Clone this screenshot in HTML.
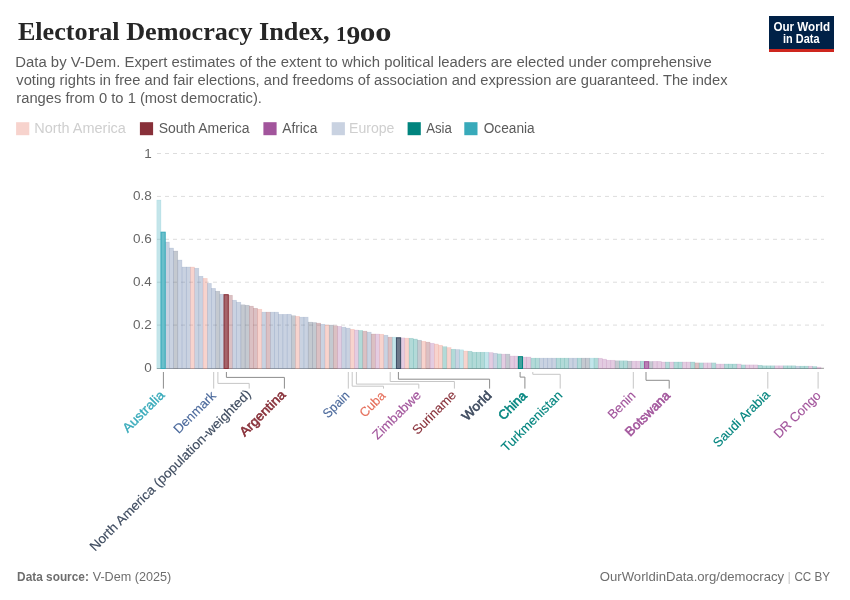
<!DOCTYPE html>
<html><head><meta charset="utf-8"><title>Electoral Democracy Index, 1900</title>
<style>
html,body{margin:0;padding:0;background:#fff;}
body{width:850px;height:600px;overflow:hidden;}
svg{display:block;will-change:transform;}
text{font-family:"Liberation Sans",sans-serif;}
.t{font-family:"Liberation Serif",serif;font-weight:700;font-size:26px;fill:#262626;}
.st{font-size:14px;fill:#5B5B5B;}
.lg{font-size:14px;}
.yl{font-size:13.5px;fill:#666666;}
.lb{}
.ft{font-size:13px;fill:#6E6E6E;}
.lo{font-size:12.5px;font-weight:700;fill:#ffffff;}
</style></head>
<body>
<svg width="850" height="600" viewBox="0 0 850 600">
<rect x="769" y="16" width="65" height="36" fill="#002147"/>
<rect x="769" y="49" width="65" height="3" fill="#CE261E"/>
<text id="title" x="17.90" y="40.10" class="t hz" textLength="311.75" lengthAdjust="spacingAndGlyphs">Electoral Democracy Index,</text>
<text id="st1" x="15.30" y="66.70" class="st hz" textLength="696.43" lengthAdjust="spacingAndGlyphs">Data by V-Dem. Expert estimates of the extent to which political leaders are elected under comprehensive</text>
<text id="st2" x="16.30" y="84.80" class="st hz" textLength="711.21" lengthAdjust="spacingAndGlyphs">voting rights in free and fair elections, and freedoms of association and expression are guaranteed. The index</text>
<text id="st3" x="16.30" y="102.90" class="st hz" textLength="245.62" lengthAdjust="spacingAndGlyphs">ranges from 0 to 1 (most democratic).</text>
<text id="lo1" x="773.40" y="30.70" class="lo hz" textLength="56.69" lengthAdjust="spacingAndGlyphs">Our World</text>
<text id="lo2" x="783.00" y="42.50" class="lo hz" textLength="36.49" lengthAdjust="spacingAndGlyphs">in Data</text>
<text id="g1" x="337.7" y="40.6" class="t gl" transform="matrix(0.8072 0 0 0.7677 63.503 9.775)">1</text>
<text id="g2" x="346.9" y="43.7" class="t gl" transform="matrix(1.0550 0 0 0.9579 -19.568 1.652)">9</text>
<text id="g3" x="361.0" y="40.6" class="t gl" transform="matrix(1.2033 0 0 1.0630 -74.619 -2.157)">o</text>
<text id="g4" x="376.5" y="40.6" class="t gl" transform="matrix(1.2475 0 0 1.0630 -94.389 -2.157)">o</text>
<rect x="16.1" y="122.2" width="13.2" height="13" fill="#E56E5A" fill-opacity="0.3"/>
<rect x="139.9" y="122.2" width="13.2" height="13" fill="#883039" fill-opacity="1"/>
<rect x="263.4" y="122.2" width="13.2" height="13" fill="#A2559C" fill-opacity="1"/>
<rect x="331.7" y="122.2" width="13.2" height="13" fill="#4C6A9C" fill-opacity="0.3"/>
<rect x="407.6" y="122.2" width="13.2" height="13" fill="#00847E" fill-opacity="1"/>
<rect x="464.3" y="122.2" width="13.2" height="13" fill="#38AABA" fill-opacity="1"/>
<text id="lg1" x="34.20" y="133.30" class="lg hz" style="fill:#CFCFCF" textLength="91.70" lengthAdjust="spacingAndGlyphs">North America</text>
<text id="lg2" x="158.70" y="133.30" class="lg hz" style="fill:#5B5B5B" textLength="90.86" lengthAdjust="spacingAndGlyphs">South America</text>
<text id="lg3" x="282.30" y="133.30" class="lg hz" style="fill:#5B5B5B" textLength="35.00" lengthAdjust="spacingAndGlyphs">Africa</text>
<text id="lg4" x="349.00" y="133.30" class="lg hz" style="fill:#CFCFCF" textLength="45.36" lengthAdjust="spacingAndGlyphs">Europe</text>
<text id="lg5" x="426.20" y="133.30" class="lg hz" style="fill:#5B5B5B" textLength="25.63" lengthAdjust="spacingAndGlyphs">Asia</text>
<text id="lg6" x="483.70" y="133.30" class="lg hz" style="fill:#5B5B5B" textLength="50.96" lengthAdjust="spacingAndGlyphs">Oceania</text>
<line x1="157" y1="153.5" x2="824" y2="153.5" stroke="#DDDDDD" stroke-width="1" stroke-dasharray="4,4"/>
<line x1="157" y1="196.4" x2="824" y2="196.4" stroke="#DDDDDD" stroke-width="1" stroke-dasharray="4,4"/>
<line x1="157" y1="239.3" x2="824" y2="239.3" stroke="#DDDDDD" stroke-width="1" stroke-dasharray="4,4"/>
<line x1="157" y1="282.2" x2="824" y2="282.2" stroke="#DDDDDD" stroke-width="1" stroke-dasharray="4,4"/>
<line x1="157" y1="325.1" x2="824" y2="325.1" stroke="#DDDDDD" stroke-width="1" stroke-dasharray="4,4"/>
<text x="151.8" y="157.5" text-anchor="end" class="yl">1</text>
<text x="151.8" y="200.4" text-anchor="end" class="yl">0.8</text>
<text x="151.8" y="243.3" text-anchor="end" class="yl">0.6</text>
<text x="151.8" y="286.2" text-anchor="end" class="yl">0.4</text>
<text x="151.8" y="329.1" text-anchor="end" class="yl">0.2</text>
<text x="151.8" y="372.0" text-anchor="end" class="yl">0</text>
<line x1="156.8" y1="368.5" x2="823.9" y2="368.5" stroke="#AAAAAA" stroke-width="1"/>
<rect x="156.80" y="200.00" width="4.20" height="168.60" fill="#38AABA" fill-opacity="0.3" stroke="#38AABA" stroke-opacity="0.2" stroke-width="0.5"/>
<rect x="165.21" y="242.00" width="4.20" height="126.60" fill="#4C6A9C" fill-opacity="0.3" stroke="#4C6A9C" stroke-opacity="0.2" stroke-width="0.5"/>
<rect x="169.41" y="248.00" width="4.20" height="120.60" fill="#4C6A9C" fill-opacity="0.3" stroke="#4C6A9C" stroke-opacity="0.2" stroke-width="0.5"/>
<rect x="173.62" y="251.00" width="4.20" height="117.60" fill="#3B4B63" fill-opacity="0.3" stroke="#3B4B63" stroke-opacity="0.2" stroke-width="0.5"/>
<rect x="177.82" y="260.00" width="4.20" height="108.60" fill="#4C6A9C" fill-opacity="0.3" stroke="#4C6A9C" stroke-opacity="0.2" stroke-width="0.5"/>
<rect x="182.02" y="267.00" width="4.20" height="101.60" fill="#4C6A9C" fill-opacity="0.3" stroke="#4C6A9C" stroke-opacity="0.2" stroke-width="0.5"/>
<rect x="186.23" y="267.00" width="4.20" height="101.60" fill="#4C6A9C" fill-opacity="0.3" stroke="#4C6A9C" stroke-opacity="0.2" stroke-width="0.5"/>
<rect x="190.43" y="267.00" width="4.20" height="101.60" fill="#E56E5A" fill-opacity="0.3" stroke="#E56E5A" stroke-opacity="0.2" stroke-width="0.5"/>
<rect x="194.64" y="268.20" width="4.20" height="100.40" fill="#4C6A9C" fill-opacity="0.3" stroke="#4C6A9C" stroke-opacity="0.2" stroke-width="0.5"/>
<rect x="198.84" y="276.20" width="4.20" height="92.40" fill="#4C6A9C" fill-opacity="0.3" stroke="#4C6A9C" stroke-opacity="0.2" stroke-width="0.5"/>
<rect x="203.04" y="278.30" width="4.20" height="90.30" fill="#E56E5A" fill-opacity="0.3" stroke="#E56E5A" stroke-opacity="0.2" stroke-width="0.5"/>
<rect x="207.25" y="283.30" width="4.20" height="85.30" fill="#4C6A9C" fill-opacity="0.3" stroke="#4C6A9C" stroke-opacity="0.2" stroke-width="0.5"/>
<rect x="211.45" y="288.30" width="4.20" height="80.30" fill="#4C6A9C" fill-opacity="0.3" stroke="#4C6A9C" stroke-opacity="0.2" stroke-width="0.5"/>
<rect x="215.66" y="291.20" width="4.20" height="77.40" fill="#3B4B63" fill-opacity="0.3" stroke="#3B4B63" stroke-opacity="0.2" stroke-width="0.5"/>
<rect x="219.86" y="294.20" width="4.20" height="74.40" fill="#4C6A9C" fill-opacity="0.3" stroke="#4C6A9C" stroke-opacity="0.2" stroke-width="0.5"/>
<rect x="228.27" y="295.20" width="4.20" height="73.40" fill="#883039" fill-opacity="0.3" stroke="#883039" stroke-opacity="0.2" stroke-width="0.5"/>
<rect x="232.47" y="300.20" width="4.20" height="68.40" fill="#4C6A9C" fill-opacity="0.3" stroke="#4C6A9C" stroke-opacity="0.2" stroke-width="0.5"/>
<rect x="236.68" y="302.20" width="4.20" height="66.40" fill="#4C6A9C" fill-opacity="0.3" stroke="#4C6A9C" stroke-opacity="0.2" stroke-width="0.5"/>
<rect x="240.88" y="304.80" width="4.20" height="63.80" fill="#3B4B63" fill-opacity="0.3" stroke="#3B4B63" stroke-opacity="0.2" stroke-width="0.5"/>
<rect x="245.08" y="305.20" width="4.20" height="63.40" fill="#3B4B63" fill-opacity="0.3" stroke="#3B4B63" stroke-opacity="0.2" stroke-width="0.5"/>
<rect x="249.29" y="306.10" width="4.20" height="62.50" fill="#883039" fill-opacity="0.3" stroke="#883039" stroke-opacity="0.2" stroke-width="0.5"/>
<rect x="253.49" y="308.20" width="4.20" height="60.40" fill="#883039" fill-opacity="0.3" stroke="#883039" stroke-opacity="0.2" stroke-width="0.5"/>
<rect x="257.70" y="309.20" width="4.20" height="59.40" fill="#E56E5A" fill-opacity="0.3" stroke="#E56E5A" stroke-opacity="0.2" stroke-width="0.5"/>
<rect x="261.90" y="312.10" width="4.20" height="56.50" fill="#4C6A9C" fill-opacity="0.3" stroke="#4C6A9C" stroke-opacity="0.2" stroke-width="0.5"/>
<rect x="266.10" y="312.10" width="4.20" height="56.50" fill="#883039" fill-opacity="0.3" stroke="#883039" stroke-opacity="0.2" stroke-width="0.5"/>
<rect x="270.31" y="312.10" width="4.20" height="56.50" fill="#4C6A9C" fill-opacity="0.3" stroke="#4C6A9C" stroke-opacity="0.2" stroke-width="0.5"/>
<rect x="274.51" y="312.10" width="4.20" height="56.50" fill="#4C6A9C" fill-opacity="0.3" stroke="#4C6A9C" stroke-opacity="0.2" stroke-width="0.5"/>
<rect x="278.72" y="314.30" width="4.20" height="54.30" fill="#4C6A9C" fill-opacity="0.3" stroke="#4C6A9C" stroke-opacity="0.2" stroke-width="0.5"/>
<rect x="282.92" y="314.30" width="4.20" height="54.30" fill="#4C6A9C" fill-opacity="0.3" stroke="#4C6A9C" stroke-opacity="0.2" stroke-width="0.5"/>
<rect x="287.12" y="314.20" width="4.20" height="54.40" fill="#4C6A9C" fill-opacity="0.3" stroke="#4C6A9C" stroke-opacity="0.2" stroke-width="0.5"/>
<rect x="291.33" y="315.70" width="4.20" height="52.90" fill="#3B4B63" fill-opacity="0.3" stroke="#3B4B63" stroke-opacity="0.2" stroke-width="0.5"/>
<rect x="295.53" y="316.30" width="4.20" height="52.30" fill="#E56E5A" fill-opacity="0.3" stroke="#E56E5A" stroke-opacity="0.2" stroke-width="0.5"/>
<rect x="299.74" y="317.10" width="4.20" height="51.50" fill="#4C6A9C" fill-opacity="0.3" stroke="#4C6A9C" stroke-opacity="0.2" stroke-width="0.5"/>
<rect x="303.94" y="317.10" width="4.20" height="51.50" fill="#4C6A9C" fill-opacity="0.3" stroke="#4C6A9C" stroke-opacity="0.2" stroke-width="0.5"/>
<rect x="308.14" y="322.10" width="4.20" height="46.50" fill="#3B4B63" fill-opacity="0.3" stroke="#3B4B63" stroke-opacity="0.2" stroke-width="0.5"/>
<rect x="312.35" y="322.50" width="4.20" height="46.10" fill="#3B4B63" fill-opacity="0.3" stroke="#3B4B63" stroke-opacity="0.2" stroke-width="0.5"/>
<rect x="316.55" y="323.10" width="4.20" height="45.50" fill="#883039" fill-opacity="0.3" stroke="#883039" stroke-opacity="0.2" stroke-width="0.5"/>
<rect x="320.76" y="324.20" width="4.20" height="44.40" fill="#4C6A9C" fill-opacity="0.3" stroke="#4C6A9C" stroke-opacity="0.2" stroke-width="0.5"/>
<rect x="324.96" y="325.00" width="4.20" height="43.60" fill="#E56E5A" fill-opacity="0.3" stroke="#E56E5A" stroke-opacity="0.2" stroke-width="0.5"/>
<rect x="329.16" y="325.00" width="4.20" height="43.60" fill="#3B4B63" fill-opacity="0.3" stroke="#3B4B63" stroke-opacity="0.2" stroke-width="0.5"/>
<rect x="333.37" y="325.80" width="4.20" height="42.80" fill="#883039" fill-opacity="0.3" stroke="#883039" stroke-opacity="0.2" stroke-width="0.5"/>
<rect x="337.57" y="326.30" width="4.20" height="42.30" fill="#A2559C" fill-opacity="0.3" stroke="#A2559C" stroke-opacity="0.2" stroke-width="0.5"/>
<rect x="341.78" y="327.10" width="4.20" height="41.50" fill="#4C6A9C" fill-opacity="0.3" stroke="#4C6A9C" stroke-opacity="0.2" stroke-width="0.5"/>
<rect x="345.98" y="328.10" width="4.20" height="40.50" fill="#4C6A9C" fill-opacity="0.3" stroke="#4C6A9C" stroke-opacity="0.2" stroke-width="0.5"/>
<rect x="350.18" y="329.20" width="4.20" height="39.40" fill="#E56E5A" fill-opacity="0.3" stroke="#E56E5A" stroke-opacity="0.2" stroke-width="0.5"/>
<rect x="354.39" y="330.00" width="4.20" height="38.60" fill="#A2559C" fill-opacity="0.3" stroke="#A2559C" stroke-opacity="0.2" stroke-width="0.5"/>
<rect x="358.59" y="330.40" width="4.20" height="38.20" fill="#00847E" fill-opacity="0.3" stroke="#00847E" stroke-opacity="0.2" stroke-width="0.5"/>
<rect x="362.80" y="331.10" width="4.20" height="37.50" fill="#883039" fill-opacity="0.3" stroke="#883039" stroke-opacity="0.2" stroke-width="0.5"/>
<rect x="367.00" y="332.10" width="4.20" height="36.50" fill="#4C6A9C" fill-opacity="0.3" stroke="#4C6A9C" stroke-opacity="0.2" stroke-width="0.5"/>
<rect x="371.20" y="334.00" width="4.20" height="34.60" fill="#883039" fill-opacity="0.3" stroke="#883039" stroke-opacity="0.2" stroke-width="0.5"/>
<rect x="375.41" y="334.00" width="4.20" height="34.60" fill="#A2559C" fill-opacity="0.3" stroke="#A2559C" stroke-opacity="0.2" stroke-width="0.5"/>
<rect x="379.61" y="334.20" width="4.20" height="34.40" fill="#E56E5A" fill-opacity="0.3" stroke="#E56E5A" stroke-opacity="0.2" stroke-width="0.5"/>
<rect x="383.82" y="335.20" width="4.20" height="33.40" fill="#4C6A9C" fill-opacity="0.3" stroke="#4C6A9C" stroke-opacity="0.2" stroke-width="0.5"/>
<rect x="388.02" y="337.10" width="4.20" height="31.50" fill="#883039" fill-opacity="0.3" stroke="#883039" stroke-opacity="0.2" stroke-width="0.5"/>
<rect x="392.22" y="337.10" width="4.20" height="31.50" fill="#38AABA" fill-opacity="0.3" stroke="#38AABA" stroke-opacity="0.2" stroke-width="0.5"/>
<rect x="400.63" y="337.90" width="4.20" height="30.70" fill="#A2559C" fill-opacity="0.3" stroke="#A2559C" stroke-opacity="0.2" stroke-width="0.5"/>
<rect x="404.84" y="338.10" width="4.20" height="30.50" fill="#E56E5A" fill-opacity="0.3" stroke="#E56E5A" stroke-opacity="0.2" stroke-width="0.5"/>
<rect x="409.04" y="338.20" width="4.20" height="30.40" fill="#00847E" fill-opacity="0.3" stroke="#00847E" stroke-opacity="0.2" stroke-width="0.5"/>
<rect x="413.24" y="339.00" width="4.20" height="29.60" fill="#00847E" fill-opacity="0.3" stroke="#00847E" stroke-opacity="0.2" stroke-width="0.5"/>
<rect x="417.45" y="340.20" width="4.20" height="28.40" fill="#3B4B63" fill-opacity="0.3" stroke="#3B4B63" stroke-opacity="0.2" stroke-width="0.5"/>
<rect x="421.65" y="341.25" width="4.20" height="27.35" fill="#E56E5A" fill-opacity="0.3" stroke="#E56E5A" stroke-opacity="0.2" stroke-width="0.5"/>
<rect x="425.86" y="342.10" width="4.20" height="26.50" fill="#883039" fill-opacity="0.3" stroke="#883039" stroke-opacity="0.2" stroke-width="0.5"/>
<rect x="430.06" y="343.20" width="4.20" height="25.40" fill="#A2559C" fill-opacity="0.3" stroke="#A2559C" stroke-opacity="0.2" stroke-width="0.5"/>
<rect x="434.26" y="344.00" width="4.20" height="24.60" fill="#E56E5A" fill-opacity="0.3" stroke="#E56E5A" stroke-opacity="0.2" stroke-width="0.5"/>
<rect x="438.47" y="345.20" width="4.20" height="23.40" fill="#E56E5A" fill-opacity="0.3" stroke="#E56E5A" stroke-opacity="0.2" stroke-width="0.5"/>
<rect x="442.67" y="346.70" width="4.20" height="21.90" fill="#00847E" fill-opacity="0.3" stroke="#00847E" stroke-opacity="0.2" stroke-width="0.5"/>
<rect x="446.88" y="347.50" width="4.20" height="21.10" fill="#E56E5A" fill-opacity="0.3" stroke="#E56E5A" stroke-opacity="0.2" stroke-width="0.5"/>
<rect x="451.08" y="349.20" width="4.20" height="19.40" fill="#00847E" fill-opacity="0.3" stroke="#00847E" stroke-opacity="0.2" stroke-width="0.5"/>
<rect x="455.28" y="349.50" width="4.20" height="19.10" fill="#4C6A9C" fill-opacity="0.3" stroke="#4C6A9C" stroke-opacity="0.2" stroke-width="0.5"/>
<rect x="459.49" y="349.80" width="4.20" height="18.80" fill="#38AABA" fill-opacity="0.3" stroke="#38AABA" stroke-opacity="0.2" stroke-width="0.5"/>
<rect x="463.69" y="351.00" width="4.20" height="17.60" fill="#E56E5A" fill-opacity="0.3" stroke="#E56E5A" stroke-opacity="0.2" stroke-width="0.5"/>
<rect x="467.90" y="351.20" width="4.20" height="17.40" fill="#00847E" fill-opacity="0.3" stroke="#00847E" stroke-opacity="0.2" stroke-width="0.5"/>
<rect x="472.10" y="352.20" width="4.20" height="16.40" fill="#00847E" fill-opacity="0.3" stroke="#00847E" stroke-opacity="0.2" stroke-width="0.5"/>
<rect x="476.30" y="352.20" width="4.20" height="16.40" fill="#00847E" fill-opacity="0.3" stroke="#00847E" stroke-opacity="0.2" stroke-width="0.5"/>
<rect x="480.51" y="352.20" width="4.20" height="16.40" fill="#00847E" fill-opacity="0.3" stroke="#00847E" stroke-opacity="0.2" stroke-width="0.5"/>
<rect x="484.71" y="352.20" width="4.20" height="16.40" fill="#38AABA" fill-opacity="0.3" stroke="#38AABA" stroke-opacity="0.2" stroke-width="0.5"/>
<rect x="488.92" y="352.50" width="4.20" height="16.10" fill="#A2559C" fill-opacity="0.3" stroke="#A2559C" stroke-opacity="0.2" stroke-width="0.5"/>
<rect x="493.12" y="353.20" width="4.20" height="15.40" fill="#4C6A9C" fill-opacity="0.3" stroke="#4C6A9C" stroke-opacity="0.2" stroke-width="0.5"/>
<rect x="497.32" y="353.90" width="4.20" height="14.70" fill="#00847E" fill-opacity="0.3" stroke="#00847E" stroke-opacity="0.2" stroke-width="0.5"/>
<rect x="501.53" y="354.10" width="4.20" height="14.50" fill="#A2559C" fill-opacity="0.3" stroke="#A2559C" stroke-opacity="0.2" stroke-width="0.5"/>
<rect x="505.73" y="354.10" width="4.20" height="14.50" fill="#3B4B63" fill-opacity="0.3" stroke="#3B4B63" stroke-opacity="0.2" stroke-width="0.5"/>
<rect x="509.94" y="356.00" width="4.20" height="12.60" fill="#A2559C" fill-opacity="0.3" stroke="#A2559C" stroke-opacity="0.2" stroke-width="0.5"/>
<rect x="514.14" y="356.00" width="4.20" height="12.60" fill="#A2559C" fill-opacity="0.3" stroke="#A2559C" stroke-opacity="0.2" stroke-width="0.5"/>
<rect x="522.55" y="357.00" width="4.20" height="11.60" fill="#A2559C" fill-opacity="0.3" stroke="#A2559C" stroke-opacity="0.2" stroke-width="0.5"/>
<rect x="526.75" y="357.00" width="4.20" height="11.60" fill="#A2559C" fill-opacity="0.3" stroke="#A2559C" stroke-opacity="0.2" stroke-width="0.5"/>
<rect x="530.96" y="358.10" width="4.20" height="10.50" fill="#00847E" fill-opacity="0.3" stroke="#00847E" stroke-opacity="0.2" stroke-width="0.5"/>
<rect x="535.16" y="358.10" width="4.20" height="10.50" fill="#00847E" fill-opacity="0.3" stroke="#00847E" stroke-opacity="0.2" stroke-width="0.5"/>
<rect x="539.36" y="358.10" width="4.20" height="10.50" fill="#4C6A9C" fill-opacity="0.3" stroke="#4C6A9C" stroke-opacity="0.2" stroke-width="0.5"/>
<rect x="543.57" y="358.10" width="4.20" height="10.50" fill="#4C6A9C" fill-opacity="0.3" stroke="#4C6A9C" stroke-opacity="0.2" stroke-width="0.5"/>
<rect x="547.77" y="358.10" width="4.20" height="10.50" fill="#4C6A9C" fill-opacity="0.3" stroke="#4C6A9C" stroke-opacity="0.2" stroke-width="0.5"/>
<rect x="551.98" y="358.10" width="4.20" height="10.50" fill="#4C6A9C" fill-opacity="0.3" stroke="#4C6A9C" stroke-opacity="0.2" stroke-width="0.5"/>
<rect x="556.18" y="358.10" width="4.20" height="10.50" fill="#00847E" fill-opacity="0.3" stroke="#00847E" stroke-opacity="0.2" stroke-width="0.5"/>
<rect x="560.38" y="358.10" width="4.20" height="10.50" fill="#00847E" fill-opacity="0.3" stroke="#00847E" stroke-opacity="0.2" stroke-width="0.5"/>
<rect x="564.59" y="358.10" width="4.20" height="10.50" fill="#00847E" fill-opacity="0.3" stroke="#00847E" stroke-opacity="0.2" stroke-width="0.5"/>
<rect x="568.79" y="358.10" width="4.20" height="10.50" fill="#4C6A9C" fill-opacity="0.3" stroke="#4C6A9C" stroke-opacity="0.2" stroke-width="0.5"/>
<rect x="573.00" y="358.10" width="4.20" height="10.50" fill="#4C6A9C" fill-opacity="0.3" stroke="#4C6A9C" stroke-opacity="0.2" stroke-width="0.5"/>
<rect x="577.20" y="358.10" width="4.20" height="10.50" fill="#00847E" fill-opacity="0.3" stroke="#00847E" stroke-opacity="0.2" stroke-width="0.5"/>
<rect x="581.40" y="358.10" width="4.20" height="10.50" fill="#3B4B63" fill-opacity="0.3" stroke="#3B4B63" stroke-opacity="0.2" stroke-width="0.5"/>
<rect x="585.61" y="358.10" width="4.20" height="10.50" fill="#3B4B63" fill-opacity="0.3" stroke="#3B4B63" stroke-opacity="0.2" stroke-width="0.5"/>
<rect x="589.81" y="358.10" width="4.20" height="10.50" fill="#38AABA" fill-opacity="0.3" stroke="#38AABA" stroke-opacity="0.2" stroke-width="0.5"/>
<rect x="594.02" y="358.10" width="4.20" height="10.50" fill="#00847E" fill-opacity="0.3" stroke="#00847E" stroke-opacity="0.2" stroke-width="0.5"/>
<rect x="598.22" y="358.20" width="4.20" height="10.40" fill="#A2559C" fill-opacity="0.3" stroke="#A2559C" stroke-opacity="0.2" stroke-width="0.5"/>
<rect x="602.42" y="359.10" width="4.20" height="9.50" fill="#A2559C" fill-opacity="0.3" stroke="#A2559C" stroke-opacity="0.2" stroke-width="0.5"/>
<rect x="606.63" y="360.20" width="4.20" height="8.40" fill="#A2559C" fill-opacity="0.3" stroke="#A2559C" stroke-opacity="0.2" stroke-width="0.5"/>
<rect x="610.83" y="360.20" width="4.20" height="8.40" fill="#A2559C" fill-opacity="0.3" stroke="#A2559C" stroke-opacity="0.2" stroke-width="0.5"/>
<rect x="615.04" y="360.80" width="4.20" height="7.80" fill="#3B4B63" fill-opacity="0.3" stroke="#3B4B63" stroke-opacity="0.2" stroke-width="0.5"/>
<rect x="619.24" y="360.80" width="4.20" height="7.80" fill="#00847E" fill-opacity="0.3" stroke="#00847E" stroke-opacity="0.2" stroke-width="0.5"/>
<rect x="623.44" y="360.80" width="4.20" height="7.80" fill="#00847E" fill-opacity="0.3" stroke="#00847E" stroke-opacity="0.2" stroke-width="0.5"/>
<rect x="627.65" y="361.10" width="4.20" height="7.50" fill="#3B4B63" fill-opacity="0.3" stroke="#3B4B63" stroke-opacity="0.2" stroke-width="0.5"/>
<rect x="631.85" y="361.10" width="4.20" height="7.50" fill="#A2559C" fill-opacity="0.3" stroke="#A2559C" stroke-opacity="0.2" stroke-width="0.5"/>
<rect x="636.06" y="361.10" width="4.20" height="7.50" fill="#A2559C" fill-opacity="0.3" stroke="#A2559C" stroke-opacity="0.2" stroke-width="0.5"/>
<rect x="640.26" y="361.10" width="4.20" height="7.50" fill="#00847E" fill-opacity="0.3" stroke="#00847E" stroke-opacity="0.2" stroke-width="0.5"/>
<rect x="648.67" y="361.50" width="4.20" height="7.10" fill="#3B4B63" fill-opacity="0.3" stroke="#3B4B63" stroke-opacity="0.2" stroke-width="0.5"/>
<rect x="652.87" y="361.30" width="4.20" height="7.30" fill="#A2559C" fill-opacity="0.3" stroke="#A2559C" stroke-opacity="0.2" stroke-width="0.5"/>
<rect x="657.08" y="361.30" width="4.20" height="7.30" fill="#A2559C" fill-opacity="0.3" stroke="#A2559C" stroke-opacity="0.2" stroke-width="0.5"/>
<rect x="661.28" y="362.00" width="4.20" height="6.60" fill="#A2559C" fill-opacity="0.3" stroke="#A2559C" stroke-opacity="0.2" stroke-width="0.5"/>
<rect x="665.48" y="362.00" width="4.20" height="6.60" fill="#00847E" fill-opacity="0.3" stroke="#00847E" stroke-opacity="0.2" stroke-width="0.5"/>
<rect x="669.69" y="362.00" width="4.20" height="6.60" fill="#A2559C" fill-opacity="0.3" stroke="#A2559C" stroke-opacity="0.2" stroke-width="0.5"/>
<rect x="673.89" y="362.00" width="4.20" height="6.60" fill="#00847E" fill-opacity="0.3" stroke="#00847E" stroke-opacity="0.2" stroke-width="0.5"/>
<rect x="678.10" y="362.00" width="4.20" height="6.60" fill="#00847E" fill-opacity="0.3" stroke="#00847E" stroke-opacity="0.2" stroke-width="0.5"/>
<rect x="682.30" y="362.00" width="4.20" height="6.60" fill="#A2559C" fill-opacity="0.3" stroke="#A2559C" stroke-opacity="0.2" stroke-width="0.5"/>
<rect x="686.50" y="362.00" width="4.20" height="6.60" fill="#A2559C" fill-opacity="0.3" stroke="#A2559C" stroke-opacity="0.2" stroke-width="0.5"/>
<rect x="690.71" y="362.00" width="4.20" height="6.60" fill="#00847E" fill-opacity="0.3" stroke="#00847E" stroke-opacity="0.2" stroke-width="0.5"/>
<rect x="694.91" y="362.90" width="4.20" height="5.70" fill="#883039" fill-opacity="0.3" stroke="#883039" stroke-opacity="0.2" stroke-width="0.5"/>
<rect x="699.12" y="362.90" width="4.20" height="5.70" fill="#00847E" fill-opacity="0.3" stroke="#00847E" stroke-opacity="0.2" stroke-width="0.5"/>
<rect x="703.32" y="362.90" width="4.20" height="5.70" fill="#A2559C" fill-opacity="0.3" stroke="#A2559C" stroke-opacity="0.2" stroke-width="0.5"/>
<rect x="707.52" y="362.90" width="4.20" height="5.70" fill="#A2559C" fill-opacity="0.3" stroke="#A2559C" stroke-opacity="0.2" stroke-width="0.5"/>
<rect x="711.73" y="362.90" width="4.20" height="5.70" fill="#00847E" fill-opacity="0.3" stroke="#00847E" stroke-opacity="0.2" stroke-width="0.5"/>
<rect x="715.93" y="364.00" width="4.20" height="4.60" fill="#A2559C" fill-opacity="0.3" stroke="#A2559C" stroke-opacity="0.2" stroke-width="0.5"/>
<rect x="720.14" y="364.00" width="4.20" height="4.60" fill="#A2559C" fill-opacity="0.3" stroke="#A2559C" stroke-opacity="0.2" stroke-width="0.5"/>
<rect x="724.34" y="364.00" width="4.20" height="4.60" fill="#00847E" fill-opacity="0.3" stroke="#00847E" stroke-opacity="0.2" stroke-width="0.5"/>
<rect x="728.54" y="364.00" width="4.20" height="4.60" fill="#00847E" fill-opacity="0.3" stroke="#00847E" stroke-opacity="0.2" stroke-width="0.5"/>
<rect x="732.75" y="364.00" width="4.20" height="4.60" fill="#00847E" fill-opacity="0.3" stroke="#00847E" stroke-opacity="0.2" stroke-width="0.5"/>
<rect x="736.95" y="364.00" width="4.20" height="4.60" fill="#A2559C" fill-opacity="0.3" stroke="#A2559C" stroke-opacity="0.2" stroke-width="0.5"/>
<rect x="741.16" y="364.90" width="4.20" height="3.70" fill="#00847E" fill-opacity="0.3" stroke="#00847E" stroke-opacity="0.2" stroke-width="0.5"/>
<rect x="745.36" y="364.90" width="4.20" height="3.70" fill="#A2559C" fill-opacity="0.3" stroke="#A2559C" stroke-opacity="0.2" stroke-width="0.5"/>
<rect x="749.56" y="364.90" width="4.20" height="3.70" fill="#A2559C" fill-opacity="0.3" stroke="#A2559C" stroke-opacity="0.2" stroke-width="0.5"/>
<rect x="753.77" y="364.90" width="4.20" height="3.70" fill="#A2559C" fill-opacity="0.3" stroke="#A2559C" stroke-opacity="0.2" stroke-width="0.5"/>
<rect x="757.97" y="365.20" width="4.20" height="3.40" fill="#00847E" fill-opacity="0.3" stroke="#00847E" stroke-opacity="0.2" stroke-width="0.5"/>
<rect x="762.18" y="365.80" width="4.20" height="2.80" fill="#00847E" fill-opacity="0.3" stroke="#00847E" stroke-opacity="0.2" stroke-width="0.5"/>
<rect x="766.38" y="365.80" width="4.20" height="2.80" fill="#00847E" fill-opacity="0.3" stroke="#00847E" stroke-opacity="0.2" stroke-width="0.5"/>
<rect x="770.58" y="365.80" width="4.20" height="2.80" fill="#00847E" fill-opacity="0.3" stroke="#00847E" stroke-opacity="0.2" stroke-width="0.5"/>
<rect x="774.79" y="365.80" width="4.20" height="2.80" fill="#A2559C" fill-opacity="0.3" stroke="#A2559C" stroke-opacity="0.2" stroke-width="0.5"/>
<rect x="778.99" y="365.80" width="4.20" height="2.80" fill="#A2559C" fill-opacity="0.3" stroke="#A2559C" stroke-opacity="0.2" stroke-width="0.5"/>
<rect x="783.20" y="365.80" width="4.20" height="2.80" fill="#00847E" fill-opacity="0.3" stroke="#00847E" stroke-opacity="0.2" stroke-width="0.5"/>
<rect x="787.40" y="365.80" width="4.20" height="2.80" fill="#00847E" fill-opacity="0.3" stroke="#00847E" stroke-opacity="0.2" stroke-width="0.5"/>
<rect x="791.60" y="365.80" width="4.20" height="2.80" fill="#00847E" fill-opacity="0.3" stroke="#00847E" stroke-opacity="0.2" stroke-width="0.5"/>
<rect x="795.81" y="366.10" width="4.20" height="2.50" fill="#4C6A9C" fill-opacity="0.3" stroke="#4C6A9C" stroke-opacity="0.2" stroke-width="0.5"/>
<rect x="800.01" y="366.10" width="4.20" height="2.50" fill="#00847E" fill-opacity="0.3" stroke="#00847E" stroke-opacity="0.2" stroke-width="0.5"/>
<rect x="804.22" y="366.10" width="4.20" height="2.50" fill="#00847E" fill-opacity="0.3" stroke="#00847E" stroke-opacity="0.2" stroke-width="0.5"/>
<rect x="808.42" y="366.10" width="4.20" height="2.50" fill="#A2559C" fill-opacity="0.3" stroke="#A2559C" stroke-opacity="0.2" stroke-width="0.5"/>
<rect x="812.62" y="366.50" width="4.20" height="2.10" fill="#00847E" fill-opacity="0.3" stroke="#00847E" stroke-opacity="0.2" stroke-width="0.5"/>
<rect x="816.83" y="367.00" width="4.20" height="1.60" fill="#A2559C" fill-opacity="0.3" stroke="#A2559C" stroke-opacity="0.2" stroke-width="0.5"/>
<rect x="821.03" y="367.50" width="2.87" height="1.10" fill="#B0B0B0" fill-opacity="0.3" stroke="#B0B0B0" stroke-opacity="0.2" stroke-width="0.5"/>
<rect x="161.00" y="232.20" width="4.20" height="136.30" fill="#38AABA" fill-opacity="0.75" stroke="#38AABA" stroke-width="1"/>
<rect x="224.06" y="294.70" width="4.20" height="73.80" fill="#883039" fill-opacity="0.75" stroke="#883039" stroke-width="1"/>
<rect x="396.43" y="337.80" width="4.20" height="30.70" fill="#3B4B63" fill-opacity="0.75" stroke="#3B4B63" stroke-width="1"/>
<rect x="518.34" y="356.70" width="4.20" height="11.80" fill="#00847E" fill-opacity="0.75" stroke="#00847E" stroke-width="1"/>
<rect x="644.46" y="361.70" width="4.20" height="6.80" fill="#A2559C" fill-opacity="0.75" stroke="#A2559C" stroke-width="1"/>
<path d="M163.4,372.0 V388.6" fill="none" stroke="#8C8C8C" stroke-width="1"/>
<path d="M213.7,372.0 V388.6" fill="none" stroke="#C6C6C6" stroke-width="1"/>
<path d="M217.9,372.0 V383.4 H249.2 V388.6" fill="none" stroke="#C6C6C6" stroke-width="1"/>
<path d="M226.4,372.0 V377.4 H284.4 V388.6" fill="none" stroke="#8C8C8C" stroke-width="1"/>
<path d="M348.3,372.0 V388.6" fill="none" stroke="#C6C6C6" stroke-width="1"/>
<path d="M352.2,372.0 V386.2 H383.5 V388.6" fill="none" stroke="#C6C6C6" stroke-width="1"/>
<path d="M356.4,372.0 V384.1 H418.8 V388.6" fill="none" stroke="#C6C6C6" stroke-width="1"/>
<path d="M390.2,372.0 V381.5 H454.4 V388.6" fill="none" stroke="#C6C6C6" stroke-width="1"/>
<path d="M398.4,372.0 V379.2 H489.6 V388.6" fill="none" stroke="#8C8C8C" stroke-width="1"/>
<path d="M520.1,372.0 V377.1 H524.9 V388.6" fill="none" stroke="#8C8C8C" stroke-width="1"/>
<path d="M532.8,372.0 V374.3 H560.2 V388.6" fill="none" stroke="#C6C6C6" stroke-width="1"/>
<path d="M633.3,372.0 V388.6" fill="none" stroke="#C6C6C6" stroke-width="1"/>
<path d="M646.0,372.0 V380.3 H669.2 V388.6" fill="none" stroke="#8C8C8C" stroke-width="1"/>
<path d="M767.8,372.0 V388.6" fill="none" stroke="#C6C6C6" stroke-width="1"/>
<path d="M818.1,372.0 V388.6" fill="none" stroke="#C6C6C6" stroke-width="1"/>
<text x="165.24" y="395.86" transform="rotate(-45 165.24 395.86)" text-anchor="end" fill="#38AABA" font-weight="400" stroke="#38AABA" stroke-width="0.35" font-size="13.0" class="lb" textLength="52.87" lengthAdjust="spacingAndGlyphs">Australia</text>
<text x="216.60" y="396.58" transform="rotate(-45 216.60 396.58)" text-anchor="end" fill="#4C6A9C" font-weight="400" stroke="#4C6A9C" stroke-width="0.15" font-size="13.0" class="lb" textLength="53.39" lengthAdjust="spacingAndGlyphs">Denmark</text>
<text x="251.80" y="394.90" transform="rotate(-45 251.80 394.90)" text-anchor="end" fill="#3E4B5F" font-weight="400" stroke="#3E4B5F" stroke-width="0.15" font-size="13.0" class="lb" textLength="221.82" lengthAdjust="spacingAndGlyphs">North America (population-weighted)</text>
<text x="286.30" y="395.50" transform="rotate(-45 286.30 395.50)" text-anchor="end" fill="#883039" font-weight="400" stroke="#883039" stroke-width="0.55" font-size="13.0" class="lb" textLength="58.84" lengthAdjust="spacingAndGlyphs">Argentina</text>
<text x="350.22" y="396.56" transform="rotate(-45 350.22 396.56)" text-anchor="end" fill="#4C6A9C" font-weight="400" stroke="#4C6A9C" stroke-width="0.15" font-size="13.0" class="lb" textLength="31.34" lengthAdjust="spacingAndGlyphs">Spain</text>
<text x="386.20" y="396.56" transform="rotate(-45 386.20 396.56)" text-anchor="end" fill="#E56E5A" font-weight="400" stroke="#E56E5A" stroke-width="0.15" font-size="13.0" class="lb" textLength="30.31" lengthAdjust="spacingAndGlyphs">Cuba</text>
<text x="421.98" y="395.84" transform="rotate(-45 421.98 395.84)" text-anchor="end" fill="#A2559C" font-weight="400" stroke="#A2559C" stroke-width="0.15" font-size="13.0" class="lb" textLength="62.77" lengthAdjust="spacingAndGlyphs">Zimbabwe</text>
<text x="456.98" y="395.84" transform="rotate(-45 456.98 395.84)" text-anchor="end" fill="#883039" font-weight="400" stroke="#883039" stroke-width="0.15" font-size="13.0" class="lb" textLength="55.77" lengthAdjust="spacingAndGlyphs">Suriname</text>
<text x="492.34" y="396.22" transform="rotate(-45 492.34 396.22)" text-anchor="end" fill="#3E4B5F" font-weight="400" stroke="#3E4B5F" stroke-width="0.55" font-size="13.0" class="lb" textLength="35.88" lengthAdjust="spacingAndGlyphs">World</text>
<text x="527.60" y="396.56" transform="rotate(-45 527.60 396.56)" text-anchor="end" fill="#00847E" font-weight="400" stroke="#00847E" stroke-width="0.55" font-size="13.0" class="lb" textLength="34.10" lengthAdjust="spacingAndGlyphs">China</text>
<text x="563.14" y="396.02" transform="rotate(-45 563.14 396.02)" text-anchor="end" fill="#00847E" font-weight="400" stroke="#00847E" stroke-width="0.15" font-size="13.0" class="lb" textLength="79.94" lengthAdjust="spacingAndGlyphs">Turkmenistan</text>
<text x="636.32" y="396.38" transform="rotate(-45 636.32 396.38)" text-anchor="end" fill="#A2559C" font-weight="400" stroke="#A2559C" stroke-width="0.15" font-size="13.0" class="lb" textLength="33.00" lengthAdjust="spacingAndGlyphs">Benin</text>
<text x="670.90" y="396.38" transform="rotate(-45 670.90 396.38)" text-anchor="end" fill="#A2559C" font-weight="400" stroke="#A2559C" stroke-width="0.55" font-size="13.0" class="lb" textLength="57.48" lengthAdjust="spacingAndGlyphs">Botswana</text>
<text x="770.54" y="395.66" transform="rotate(-45 770.54 395.66)" text-anchor="end" fill="#00847E" font-weight="400" stroke="#00847E" stroke-width="0.15" font-size="13.0" class="lb" textLength="73.86" lengthAdjust="spacingAndGlyphs">Saudi Arabia</text>
<text x="821.62" y="396.38" transform="rotate(-45 821.62 396.38)" text-anchor="end" fill="#A2559C" font-weight="400" stroke="#A2559C" stroke-width="0.15" font-size="13.0" class="lb" textLength="60.32" lengthAdjust="spacingAndGlyphs">DR Congo</text>
<text id="ft1" x="17.10" y="580.80" class="ft hz" font-weight="700" textLength="71.75" lengthAdjust="spacingAndGlyphs">Data source:</text>
<text id="ft2" x="92.70" y="580.80" class="ft hz" textLength="78.52" lengthAdjust="spacingAndGlyphs">V-Dem (2025)</text>
<text id="ft3" x="599.80" y="580.80" class="ft hz" textLength="184.36" lengthAdjust="spacingAndGlyphs">OurWorldinData.org/democracy</text>
<text id="ft4" x="787.40" y="580.80" class="ft hz" style="fill:#C8C8C8">|</text>
<text id="ft5" x="794.40" y="580.80" class="ft hz" textLength="35.73" lengthAdjust="spacingAndGlyphs">CC BY</text>
</svg>
</body></html>
